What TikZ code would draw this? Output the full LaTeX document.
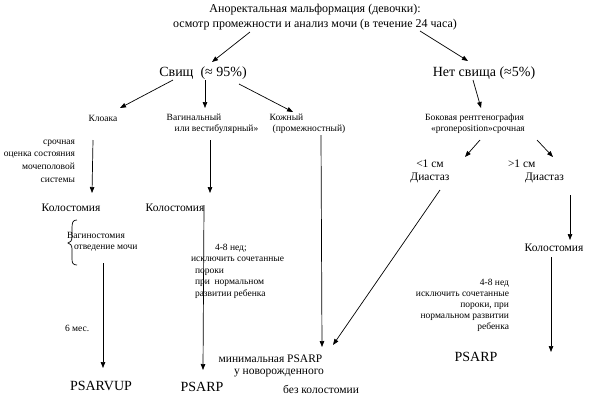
\documentclass[tikz,border=0pt]{standalone}
\usepackage{fontspec}
\setmainfont{Liberation Serif}
\usetikzlibrary{arrows.meta}
\begin{document}
\begin{tikzpicture}[x=1pt,y=-1pt,
  every node/.style={inner sep=0pt,outer sep=0pt},
  ttl/.style={font=\fontsize{12}{15}\selectfont,align=center},
  big/.style={font=\fontsize{14}{16}\selectfont},
  mid/.style={font=\fontsize{11.5}{13.5}\selectfont},
  sml/.style={font=\fontsize{9.5}{11.5}\selectfont},
  arr/.style={-{Triangle[length=6pt,width=4.5pt]},line width=0.7pt},
  ln/.style={line width=0.7pt}]
\useasboundingbox (0,0) rectangle (592,400);
\fill[white] (0,0) rectangle (592,400);

% nodes
\node[ttl] (title) at (315,17.5) {Аноректальная мальформация (девочки):\\осмотр промежности и анализ мочи (в течение 24 часа)};
\node[big] (fist) at (203,73) {Свищ\ \ (≈ 95\%)};
\node[big] (nofist) at (484,73) {Нет свища (≈5\%)};

\node[sml] (kloaka) at (103,118) {Клоака};
\node[sml,align=left] (vag) at (212.5,124) {Вагинальный\\\hspace{8pt}или вестибулярный»};
\node[sml,align=left] (kozh) at (307.5,124) {Кожный\\\hspace{3pt}(промежностный)};

\node[sml,align=right,anchor=east,font=\fontsize{9.5}{12.6}\selectfont] (srochn) at (75,161) {срочная\\оценка состояния\\мочеполовой\\системы};

\node[mid] (kol1) at (71,208) {Колостомия};
\node[mid] (kol2) at (175,208) {Колостомия};

\node[sml,anchor=west] (vst) at (67,235) {Вагиностомия};
\node[sml,anchor=west] (otv) at (74,248) {отведение мочи};
\node[sml,anchor=west] (mes) at (65,328) {6 мес.};

\node[sml,align=left,anchor=west,font=\fontsize{9.5}{11.5}\selectfont] (ned1) at (191,271) {\hspace{24pt}4-8 нед;\\исключить сочетанные\\\hspace{4pt}пороки\\\hspace{4pt}при\ \ нормальном\\\hspace{4pt}развитии ребенка};

\node[big] (psarvup) at (101,386) {PSARVUP};
\node[big] (psarp1) at (202,387) {PSARP};

\node[mid] (mini1) at (270.5,359) {минимальная PSARP};
\node[mid] (mini2) at (279,373.5) {у новорожденного};
\node[mid] (mini3) at (321,389) {без колостомии};

\node[sml,align=left] (bok) at (475,123.5) {Боковая рентгенография\\\hspace{6pt}«proneposition»срочная};

\node[mid,align=center] (lt1) at (430,171.5) {<1 см\\Диастаз};
\node[mid,align=left,anchor=west] (gt1) at (508,171.5) {>1 см\\\hspace{17pt}Диастаз};

\node[mid] (kol3) at (554,248) {Колостомия};

\node[sml,align=right,anchor=east,font=\fontsize{9.5}{11}\selectfont] (ned2) at (509,305.5) {4-8 нед\\исключить сочетанные\\пороки, при\\нормальном развитии\\ребенка};

\node[big] (psarp2) at (476,357) {PSARP};

% connectors
\draw[arr] ([shift={(-65,14.5)}]title.center) -- ([shift={(9,-11)}]fist.center);
\draw[arr] ([shift={(105,13.5)}]title.center) -- ([shift={(-16,-12)}]nofist.center);

\draw[arr] ([shift={(-30,7)}]fist.center) -- ([shift={(17,-10)}]kloaka.center);
\draw[arr] ([shift={(2,7)}]fist.center) -- ([shift={(-7.5,-16)}]vag.center);
\draw[arr] ([shift={(36,11)}]fist.center) -- ([shift={(-14.5,-12)}]kozh.center);

\draw[arr] ([shift={(-10,22)}]kloaka.center) -- ([shift={(21,-15)}]kol1.center);
\draw[arr] ([shift={(-2.5,16)}]vag.center) -- ([shift={(35,-15)}]kol2.center);
\draw[arr] ([shift={(29,-3)}]kol2.center) -- ([shift={(1,-17)}]psarp1.center);
\draw[arr] ([shift={(13.5,11)}]kozh.center) -- ([shift={(51.5,-12)}]mini1.center);
\draw[arr] ([shift={(29,15)}]otv.west) -- ([shift={(2,-18)}]psarvup.center);

\draw[arr] ([shift={(-11,7)}]nofist.center) -- ([shift={(6,-15.5)}]bok.center);
\draw[arr] ([shift={(5,16.5)}]bok.center) -- ([shift={(35,-14.5)}]lt1.center);
\draw[arr] ([shift={(62,16.5)}]bok.center) -- ([shift={(45,-14.5)}]gt1.west);
\draw[arr] ([shift={(10,18.5)}]lt1.center) -- ([shift={(62.5,-14)}]mini1.center);
\draw[arr] ([shift={(62,23.5)}]gt1.west) -- ([shift={(16,-8)}]kol3.center);
\draw[arr] ([shift={(-3,9)}]kol3.center) -- ([shift={(75,-5)}]psarp2.center);

% brace
\draw[ln] (77,220) .. controls (73,220) and (72,222) .. (72,228) -- (72,237)
  .. controls (72,241) and (70,242.5) .. (68,243)
  .. controls (70,243.5) and (72,245) .. (72,249) -- (72,259)
  .. controls (72,263) and (73,265) .. (77,265);
\end{tikzpicture}
\end{document}
